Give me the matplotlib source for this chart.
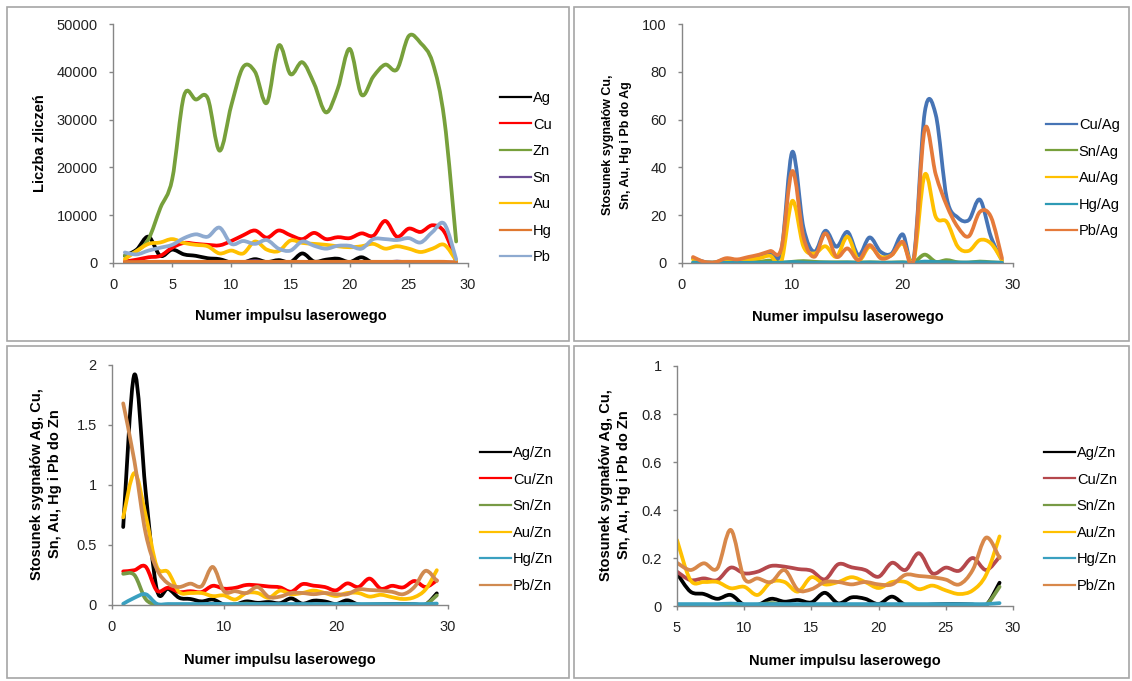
import numpy as np
import matplotlib
matplotlib.use('Agg')
import matplotlib.pyplot as plt
from matplotlib.path import Path
from matplotlib.patches import PathPatch, Rectangle
from matplotlib.lines import Line2D
from matplotlib.ticker import FuncFormatter, MultipleLocator

plt.rcParams['font.family'] = ['Liberation Sans', 'DejaVu Sans']

W, H = 1132, 681

pulses = list(range(1, 30))

# counts (top left)
counts_names = ['Ag', 'Cu', 'Zn', 'Sn', 'Au', 'Hg', 'Pb']
ag = [1500, 2800, 5500, 1500, 2800, 1800, 1500, 1000, 800, 100, 100, 800, 200, 600, 200, 2000, 300, 700, 900, 200, 1200, 0, 0, 0, 0, 0, 0, 0, 0]
cu = [300, 700, 1200, 1500, 3200, 4200, 4000, 3800, 3700, 4600, 5800, 6800, 5300, 6800, 5800, 5000, 6300, 5000, 5400, 5200, 6200, 5700, 8800, 5500, 7200, 6500, 7900, 6500, 300]
zn = [1500, 2500, 5000, 11500, 17500, 35000, 34200, 34500, 23500, 33000, 41000, 40000, 33500, 45500, 39500, 42000, 37500, 31500, 36500, 44800, 35200, 39000, 41500, 40500, 47500, 46000, 42000, 30000, 4500]
sn = [100, 100, 100, 100, 100, 100, 100, 100, 100, 100, 200, 400, 100, 100, 100, 100, 100, 100, 100, 100, 100, 100, 100, 300, 100, 100, 100, 100, 100]
au = [800, 2500, 4000, 4300, 5000, 4200, 3800, 3500, 2000, 2600, 2000, 4500, 2800, 2500, 4700, 4200, 4000, 3800, 3500, 3300, 3500, 4000, 3000, 3500, 3000, 2300, 3000, 3800, 500]
hg = [200, 200, 250, 250, 250, 250, 250, 250, 250, 250, 250, 250, 250, 250, 250, 250, 250, 250, 250, 250, 250, 250, 250, 250, 250, 250, 250, 250, 100]
pb = [2200, 1800, 2600, 3200, 3800, 5200, 6000, 5500, 7400, 4000, 4600, 4000, 4800, 3000, 2600, 4500, 3600, 3000, 3600, 3600, 3000, 5000, 5000, 4800, 5200, 4300, 6500, 8200, 800]

# ratios to Ag (top right)
ag_names = ['Cu/Ag', 'Sn/Ag', 'Au/Ag', 'Hg/Ag', 'Pb/Ag']
cu_ag = [2.0, 0.5, 0.3, 1.7, 1.2, 2.0, 3.0, 4.3, 5.0, 46.5, 15, 4.7, 13.5, 6.8, 13, 3.3, 10.7, 4.7, 4.0, 12, 2, 63, 62, 27, 19, 18, 26.5, 11, 1]
sn_ag = [0.1, 0.1, 0.1, 0.2, 0.2, 0.3, 0.5, 1.0, 0.2, 0.5, 0.8, 0.5, 0.3, 0.3, 0.3, 0.2, 0.3, 0.2, 0.2, 0.3, 0.2, 3.5, 0.5, 1.2, 0.3, 0.2, 0.6, 0.3, 0.1]
au_ag = [1.5, 0.3, 0.2, 1.5, 1.0, 1.5, 2.0, 3.0, 0.5, 26, 7, 4, 7, 2.6, 11, 1.2, 6.8, 2.6, 3.3, 8.2, 1.2, 37, 19.3, 17.2, 6.8, 5.1, 9.6, 8.2, 1.2]
hg_ag = [0.2, 0.1, 0.1, 0.1, 0.1, 0.1, 0.1, 0.1, 0.1, 0.4, 0.2, 0.1, 0.2, 0.1, 0.2, 0.1, 0.2, 0.1, 0.1, 0.2, 0.1, 0.6, 0.4, 0.3, 0.2, 0.2, 0.3, 0.2, 0.1]
pb_ag = [2.5, 0.5, 0.3, 2.0, 1.5, 2.5, 3.5, 5.0, 6.0, 38.5, 11, 2.6, 12.4, 2.6, 6.1, 1.2, 7.5, 2.0, 3.3, 8.9, 1.2, 56, 37, 24, 15, 11.2, 21.4, 19.3, 2]

# ratios to Zn (bottom row, same data, two zoom levels)
zn_names = ['Ag/Zn', 'Cu/Zn', 'Sn/Zn', 'Au/Zn', 'Hg/Zn', 'Pb/Zn']
ag_zn = [0.65, 1.92, 0.95, 0.13, 0.136, 0.06, 0.05, 0.03, 0.046, 0.004, 0.004, 0.03, 0.018, 0.025, 0.015, 0.055, 0.011, 0.036, 0.03, 0.008, 0.039, 0.004, 0.003, 0.006, 0.008, 0.008, 0.006, 0.004, 0.097]
cu_zn = [0.28, 0.29, 0.32, 0.12, 0.143, 0.108, 0.115, 0.108, 0.16, 0.136, 0.143, 0.167, 0.164, 0.154, 0.147, 0.111, 0.174, 0.161, 0.15, 0.122, 0.18, 0.15, 0.22, 0.136, 0.16, 0.147, 0.2, 0.15, 0.205]
sn_zn = [0.26, 0.25, 0.05, 0.003, 0.002, 0.002, 0.002, 0.002, 0.002, 0.002, 0.005, 0.012, 0.005, 0.003, 0.003, 0.003, 0.003, 0.003, 0.003, 0.003, 0.003, 0.003, 0.003, 0.005, 0.003, 0.003, 0.003, 0.005, 0.08]
au_zn = [0.73, 1.1, 0.75, 0.32, 0.275, 0.108, 0.1, 0.1, 0.074, 0.08, 0.046, 0.1, 0.1, 0.06, 0.12, 0.09, 0.1, 0.12, 0.1, 0.075, 0.1, 0.1, 0.07, 0.085, 0.065, 0.05, 0.065, 0.13, 0.29]
hg_zn = [0.01, 0.06, 0.09, 0.01, 0.008, 0.008, 0.008, 0.008, 0.01, 0.008, 0.008, 0.008, 0.008, 0.008, 0.008, 0.008, 0.008, 0.008, 0.008, 0.008, 0.008, 0.008, 0.008, 0.008, 0.008, 0.008, 0.008, 0.008, 0.012]
pb_zn = [1.68, 1.2, 0.6, 0.3, 0.18, 0.15, 0.178, 0.157, 0.317, 0.115, 0.115, 0.1, 0.15, 0.067, 0.07, 0.1, 0.1, 0.09, 0.1, 0.09, 0.09, 0.13, 0.125, 0.12, 0.11, 0.09, 0.15, 0.285, 0.2]

xlabel = 'Numer impulsu laserowego'
zn_ylabel = 'Stosunek sygnałów Ag, Cu,\nSn, Au, Hg i Pb do Zn'


def fx(px):
	return px / W


def fy(py):
	return 1 - py / H


def smooth_path(xs, ys):
	# excel style smoothed line: catmull-rom segments as cubic beziers
	pts = np.column_stack([xs, ys]).astype(float)
	n = len(pts)
	verts = [pts[0]]
	codes = [Path.MOVETO]
	for i in range(n - 1):
		p0 = pts[max(i - 1, 0)]
		p1 = pts[i]
		p2 = pts[i + 1]
		p3 = pts[min(i + 2, n - 1)]
		verts += [p1 + (p2 - p0) / 6.0, p2 - (p3 - p1) / 6.0, p2]
		codes += [Path.CURVE4] * 3
	return Path(verts, codes)


def draw_panel(fig, box, xs, series, names, colors, xlim, xstep, ylim, ystep, leg_xy, xlab_gap):
	l, r, t, b = box
	ax = fig.add_axes([fx(l), fy(b), (r - l) / W, (b - t) / H])
	for ys, c in zip(series, colors):
		ax.add_patch(PathPatch(smooth_path(xs, ys), facecolor='none', edgecolor=c,
			lw=2.7, capstyle='round', joinstyle='round'))
	ax.set_xlim(*xlim)
	ax.set_ylim(*ylim)
	ax.xaxis.set_major_locator(MultipleLocator(xstep))
	ax.yaxis.set_major_locator(MultipleLocator(ystep))
	ax.yaxis.set_major_formatter(FuncFormatter(lambda v, p: '{:g}'.format(round(v, 6))))
	for side in ['top', 'right']:
		ax.spines[side].set_visible(False)
	for side in ['left', 'bottom']:
		ax.spines[side].set_color('#868686')
		ax.spines[side].set_linewidth(1.0)
	ax.tick_params(direction='out', length=3, width=1, color='#868686',
		labelsize=10.5, labelcolor='#222222', pad=8)
	handles = [Line2D([], [], color=c, lw=1.6) for c in colors]
	fig.legend(handles, names, loc='upper left', bbox_to_anchor=(fx(leg_xy[0]), fy(leg_xy[1])),
		bbox_transform=fig.transFigure, frameon=False, fontsize=10.5, borderpad=0,
		borderaxespad=0, handlelength=2.15, handletextpad=0.1, labelspacing=0.86)
	fig.text(fx((l + r) / 2), fy(b + xlab_gap), xlabel, ha='center', va='center',
		fontsize=10.5, fontweight='bold')
	return ax


fig = plt.figure(figsize=(W / 100, H / 100), dpi=100)

# panel frames
for (x0, y0, x1, y1) in [(7, 7, 569, 341), (574, 7, 1129, 341), (7, 346, 569, 678), (574, 346, 1129, 678)]:
	fig.patches.append(Rectangle((fx(x0), fy(y1)), (x1 - x0) / W, (y1 - y0) / H,
		transform=fig.transFigure, fill=False, edgecolor='#a6a6a6', lw=1.2))

draw_panel(fig, (113, 468, 24, 263), pulses, [ag, cu, zn, sn, au, hg, pb], counts_names,
	['#000000', '#ff0000', '#77a03b', '#6a4c93', '#ffc000', '#e0782f', '#8eaad0'],
	(0, 30), 5, (0, 50000), 10000, (500, 91), 53)
fig.text(fx(40), fy(143), 'Liczba zliczeń', rotation=90, ha='center', va='center',
	fontsize=10.5, fontweight='bold')

draw_panel(fig, (682, 1013, 24, 263), pulses, [cu_ag, sn_ag, au_ag, hg_ag, pb_ag], ag_names,
	['#4674b5', '#77a03b', '#ffc000', '#2e9ab5', '#e57a3a'],
	(0, 30), 10, (0, 100), 20, (1046, 118), 54)
fig.text(fx(617), fy(145), 'Stosunek sygnałów Cu,\nSn, Au, Hg i Pb do Ag', rotation=90,
	ha='center', va='center', fontsize=9, fontweight='bold', linespacing=1.65)

draw_panel(fig, (112, 448, 365, 605), pulses, [ag_zn, cu_zn, sn_zn, au_zn, hg_zn, pb_zn], zn_names,
	['#000000', '#ff0000', '#779a45', '#ffc000', '#3aa0c0', '#d08a50'],
	(0, 30), 10, (0, 2), 0.5, (480, 446), 55)
fig.text(fx(46), fy(484), zn_ylabel, rotation=90, ha='center', va='center',
	fontsize=10.5, fontweight='bold', linespacing=1.3)

draw_panel(fig, (677, 1013, 366, 606), pulses[4:],
	[s[4:] for s in [ag_zn, cu_zn, sn_zn, au_zn, hg_zn, pb_zn]], zn_names,
	['#000000', '#b5484c', '#779a45', '#ffc000', '#3aa0c0', '#d8884a'],
	(5, 30), 5, (0, 1), 0.2, (1044, 446), 55)
fig.text(fx(615), fy(485), zn_ylabel, rotation=90, ha='center', va='center',
	fontsize=10.5, fontweight='bold', linespacing=1.3)

fig.savefig('out.png', dpi=100)
